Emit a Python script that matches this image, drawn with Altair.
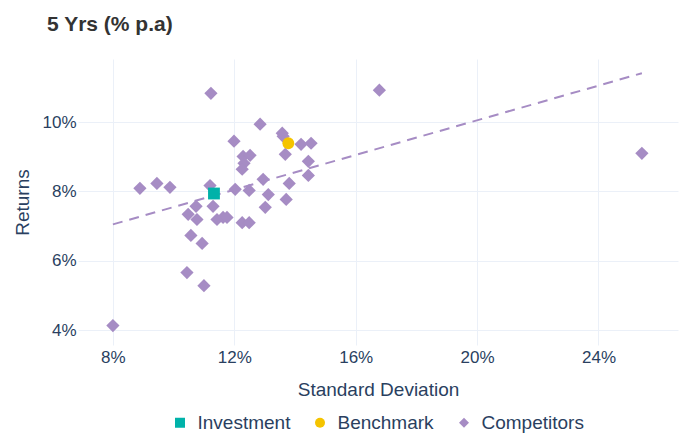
import altair as alt
import pandas as pd

# Competitors: standard deviation (%) and returns (%)
comp_sd = [8.00, 8.89, 9.45, 9.88, 11.23, 11.20, 10.44, 11.00, 10.57, 10.94,
           10.48, 10.74, 10.77, 11.30, 11.43, 11.63, 11.76, 12.26, 12.49, 12.03,
           12.49, 12.95, 13.12, 13.02, 13.71, 13.81, 14.44, 14.44, 11.99, 12.85,
           13.58, 13.61, 14.20, 14.53, 13.68, 12.29, 12.52, 12.32, 12.26, 16.78,
           25.43]
comp_ret = [4.13, 8.09, 8.23, 8.12, 10.83, 8.17, 5.66, 5.28, 6.73, 6.50,
            7.34, 7.57, 7.19, 7.57, 7.19, 7.25, 7.25, 7.10, 7.10, 8.06,
            8.03, 8.35, 7.91, 7.54, 7.77, 8.23, 8.46, 8.87, 9.45, 9.94,
            9.68, 9.59, 9.36, 9.39, 9.07, 9.01, 9.04, 8.81, 8.64, 10.92,
            9.10]

inv_sd, inv_ret = [11.33], [7.94]
bench_sd, bench_ret = [13.78], [9.39]

trend_sd = [8.00, 25.43]
trend_ret = [7.05, 11.41]

categories = ["Investment", "Benchmark", "Competitors"]
colors = ["#00B2A9", "#F5C400", "#A68CC4"]
shapes = ["square", "circle", "diamond"]

comp_df = pd.DataFrame({"sd": comp_sd, "ret": comp_ret, "type": "Competitors"})
main_df = pd.concat([
    pd.DataFrame({"sd": inv_sd, "ret": inv_ret, "type": "Investment"}),
    pd.DataFrame({"sd": bench_sd, "ret": bench_ret, "type": "Benchmark"}),
], ignore_index=True)
trend_df = pd.DataFrame({"sd": trend_sd, "ret": trend_ret})

FONT = "Liberation Sans"
TXT = "#2a3f5f"
GRID = "#EBF0F8"

x_scale = alt.Scale(domain=[6.85, 26.62], nice=False, zero=False)
y_scale = alt.Scale(domain=[3.57, 11.82], nice=False, zero=False)

x_axis = alt.Axis(values=[8, 12, 16, 20, 24], labelExpr="datum.value + '%'",
                  grid=True, gridColor=GRID, domain=False, ticks=False, tickSize=0,
                  labelFont=FONT, labelFontSize=17, labelColor=TXT, labelPadding=4,
                  title="Standard Deviation", titleFont=FONT, titleFontSize=19,
                  titleFontWeight="normal", titleColor=TXT,
                  titleX=300, titleY=44, titleBaseline="middle", titleAlign="center")
y_axis = alt.Axis(values=[4, 6, 8, 10], labelExpr="datum.value + '%'",
                  grid=True, gridColor=GRID, domain=False, ticks=False, tickSize=0,
                  labelFont=FONT, labelFontSize=17, labelColor=TXT, labelPadding=2,
                  title="Returns", titleFont=FONT, titleFontSize=19,
                  titleFontWeight="normal", titleColor=TXT, titleAngle=270,
                  titleX=-56, titleY=143, titleBaseline="middle", titleAlign="center")

color_enc = alt.Color("type:N", scale=alt.Scale(domain=categories, range=colors),
                      legend=alt.Legend(title=None, orient="none", legendX=92.5, legendY=354,
                                        columns=3, columnPadding=20, padding=0,
                                        symbolSize=100, symbolStrokeWidth=0,
                                        labelFont=FONT, labelFontSize=19, labelColor=TXT,
                                        labelOffset=8, symbolOpacity=1))
shape_enc = alt.Shape("type:N", scale=alt.Scale(domain=categories, range=shapes))

comp = alt.Chart(comp_df).mark_point(filled=True, opacity=1, strokeWidth=0,
                                     size=175).encode(
    x=alt.X("sd:Q", scale=x_scale, axis=x_axis),
    y=alt.Y("ret:Q", scale=y_scale, axis=y_axis),
    color=color_enc, shape=shape_enc,
)

trend = alt.Chart(trend_df).mark_line(color="#A68CC4", strokeWidth=2,
                                      strokeDash=[10, 7]).encode(
    x=alt.X("sd:Q", scale=x_scale),
    y=alt.Y("ret:Q", scale=y_scale),
)

main = alt.Chart(main_df).mark_point(filled=True, opacity=1, strokeWidth=0,
                                     size=140).encode(
    x=alt.X("sd:Q", scale=x_scale),
    y=alt.Y("ret:Q", scale=y_scale),
    color=color_enc, shape=shape_enc,
)

chart = alt.layer(comp, trend, main).properties(
    width=600, height=286,
    title=alt.TitleParams("5 Yrs (% p.a)", anchor="start", frame="group",
                          font=FONT, fontSize=21, fontWeight="bold", color="#333333",
                          dx=-31, offset=7, baseline="alphabetic"),
    autosize=alt.AutoSizeParams(type="none"),
    padding={"left": 70, "top": 51, "right": 2, "bottom": 90},
).configure_axis(
    domain=False, ticks=False, gridColor=GRID
).configure_view(
    strokeWidth=0, strokeOpacity=0
)

chart.save("out.html", embed_options={"renderer": "svg", "actions": False})
